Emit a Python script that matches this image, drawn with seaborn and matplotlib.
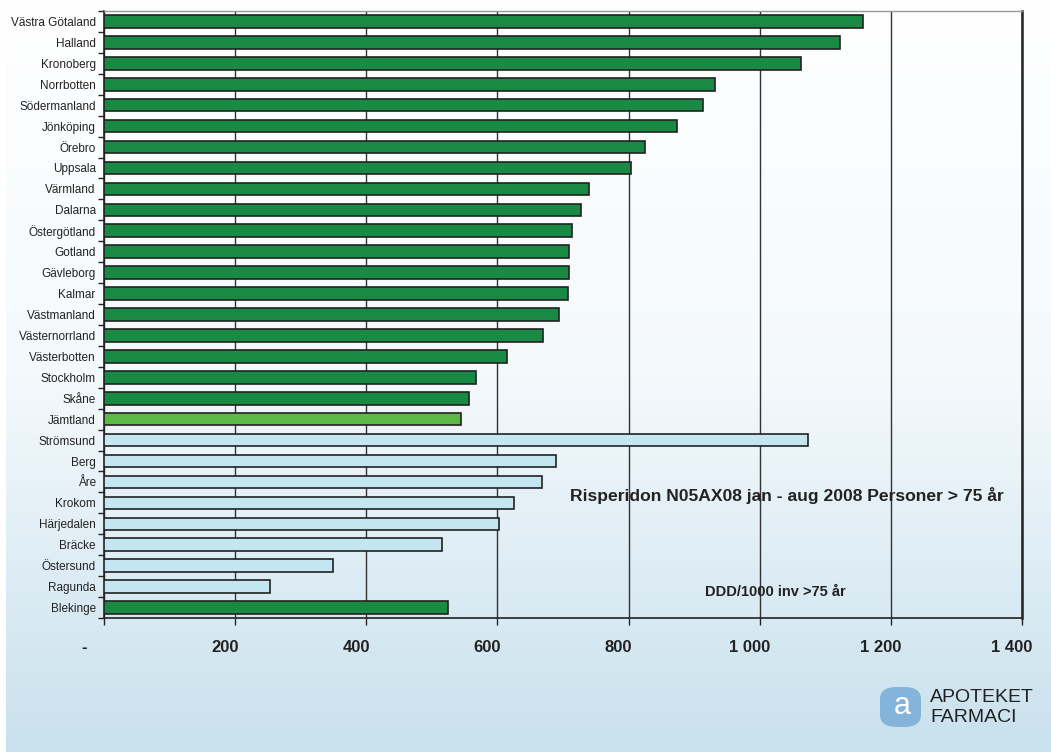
import numpy as np
import seaborn as sns
import matplotlib.pyplot as plt
import matplotlib.transforms as mtransforms
from matplotlib.colors import LinearSegmentedColormap
from matplotlib.patches import FancyBboxPatch

plt.rcParams["font.family"] = ["Liberation Sans", "DejaVu Sans"]

# ============================================================
# DATA
# ============================================================
regions = ["Västra Götaland", "Halland", "Kronoberg", "Norrbotten", "Södermanland",
           "Jönköping", "Örebro", "Uppsala", "Värmland", "Dalarna", "Östergötland",
           "Gotland", "Gävleborg", "Kalmar", "Västmanland", "Västernorrland",
           "Västerbotten", "Stockholm", "Skåne", "Jämtland", "Strömsund", "Berg",
           "Åre", "Krokom", "Härjedalen", "Bräcke", "Östersund", "Ragunda", "Blekinge"]
values = [1157, 1123, 1063, 932, 914, 874, 825, 804, 739, 728, 713,
          709, 709, 708, 694, 670, 615, 568, 557, 545, 1074, 689,
          668, 625, 602, 515, 350, 253, 525]
# kind: lan = county, jamtland = highlighted county, kommun = municipality
kinds = ["lan"] * 19 + ["jamtland"] + ["kommun"] * 8 + ["lan"]

kind_colors = {"lan": "#188a44", "jamtland": "#5cba44", "kommun": "#c3e6f0"}
palette = {r: kind_colors[k] for r, k in zip(regions, kinds)}

x_ticks = [0, 200, 400, 600, 800, 1000, 1200, 1400]
# excel accounting style: zero shown as a dash with padding
x_labels = ["-    " if v == 0 else f"{v:,}".replace(",", " ") for v in x_ticks]

title = "Risperidon N05AX08 jan - aug 2008 Personer > 75 år"
unit = "DDD/1000 inv >75 år"

# ============================================================
# FIGURE + GRADIENT BACKGROUND
# ============================================================
fig = plt.figure(figsize=(10.51, 7.52), dpi=100)
fig.patch.set_facecolor("white")

bg = fig.add_axes([6 / 1051, 0, 1 - 6 / 1051, 1], zorder=-10)
grad = np.linspace(0, 1, 256).reshape(-1, 1)
cmap = LinearSegmentedColormap.from_list("bg", ["#ffffff", "#f4f9fc", "#c9e1ed"])
bg.imshow(grad, aspect="auto", cmap=cmap, extent=[0, 1, 0, 1], origin="upper")
bg.axis("off")

ax = fig.add_axes([104 / 1051, 1 - 618 / 752, (1022 - 104) / 1051, (618 - 11) / 752])
ax.set_facecolor("none")

# ============================================================
# BARS
# ============================================================
sns.barplot(x=values, y=regions, hue=regions, palette=palette, legend=False,
            orient="h", width=0.6, saturation=1, edgecolor="#222222",
            linewidth=1.2, ax=ax, zorder=3)

ax.set_xlim(0, 1400)
ax.set_ylim(len(regions) - 0.5, -0.5)
ax.set_xticks(x_ticks)
ax.set_xticklabels(x_labels, fontsize=12, fontweight="bold", color="#222222")
ax.tick_params(axis="x", length=5, width=1, pad=11, color="#222222")
shift = mtransforms.ScaledTranslation(-10 / 100, 0, fig.dpi_scale_trans)
for lbl in ax.get_xticklabels():
    lbl.set_transform(lbl.get_transform() + shift)

ax.tick_params(axis="y", which="major", length=0, pad=6, labelsize=8.5, labelcolor="#222222")
ax.set_yticks(np.arange(-0.5, len(regions)), minor=True)
ax.tick_params(axis="y", which="minor", length=4, width=1, color="#222222")
ax.set_xlabel("")
ax.set_ylabel("")

ax.grid(axis="x", color="#333333", linewidth=1, zorder=0)
ax.grid(axis="y", visible=False)
ax.set_axisbelow(True)
for side in ["left", "bottom", "right"]:
    ax.spines[side].set_color("#222222")
    ax.spines[side].set_linewidth(1.2)
ax.spines["right"].set_linewidth(1.8)
ax.spines["top"].set_color("#999999")
ax.spines["top"].set_linewidth(1)

# ============================================================
# TEXTS
# ============================================================
fig.text(570 / 1051, 1 - 495 / 752, title, fontsize=12.6, fontweight="bold",
         color="#222222", ha="left", va="center")
fig.text(705 / 1051, 1 - 592 / 752, unit, fontsize=10.5, fontweight="bold",
         color="#222222", ha="left", va="center")

# logo
logo = FancyBboxPatch((880 / 1051, 1 - 727 / 752), 41 / 1051, 40 / 752,
                      boxstyle="round,pad=0,rounding_size=0.016",
                      transform=fig.transFigure, facecolor="#85b4da",
                      edgecolor="none")
fig.patches.append(logo)
fig.text(902 / 1051, 1 - 706 / 752, "a", fontsize=22, color="white",
         ha="center", va="center")
fig.text(930 / 1051, 1 - 698 / 752, "APOTEKET", fontsize=14, color="#222222",
         ha="left", va="center")
fig.text(930 / 1051, 1 - 717 / 752, "FARMACI", fontsize=14, color="#222222",
         ha="left", va="center")

fig.savefig("out.png", dpi=100)
